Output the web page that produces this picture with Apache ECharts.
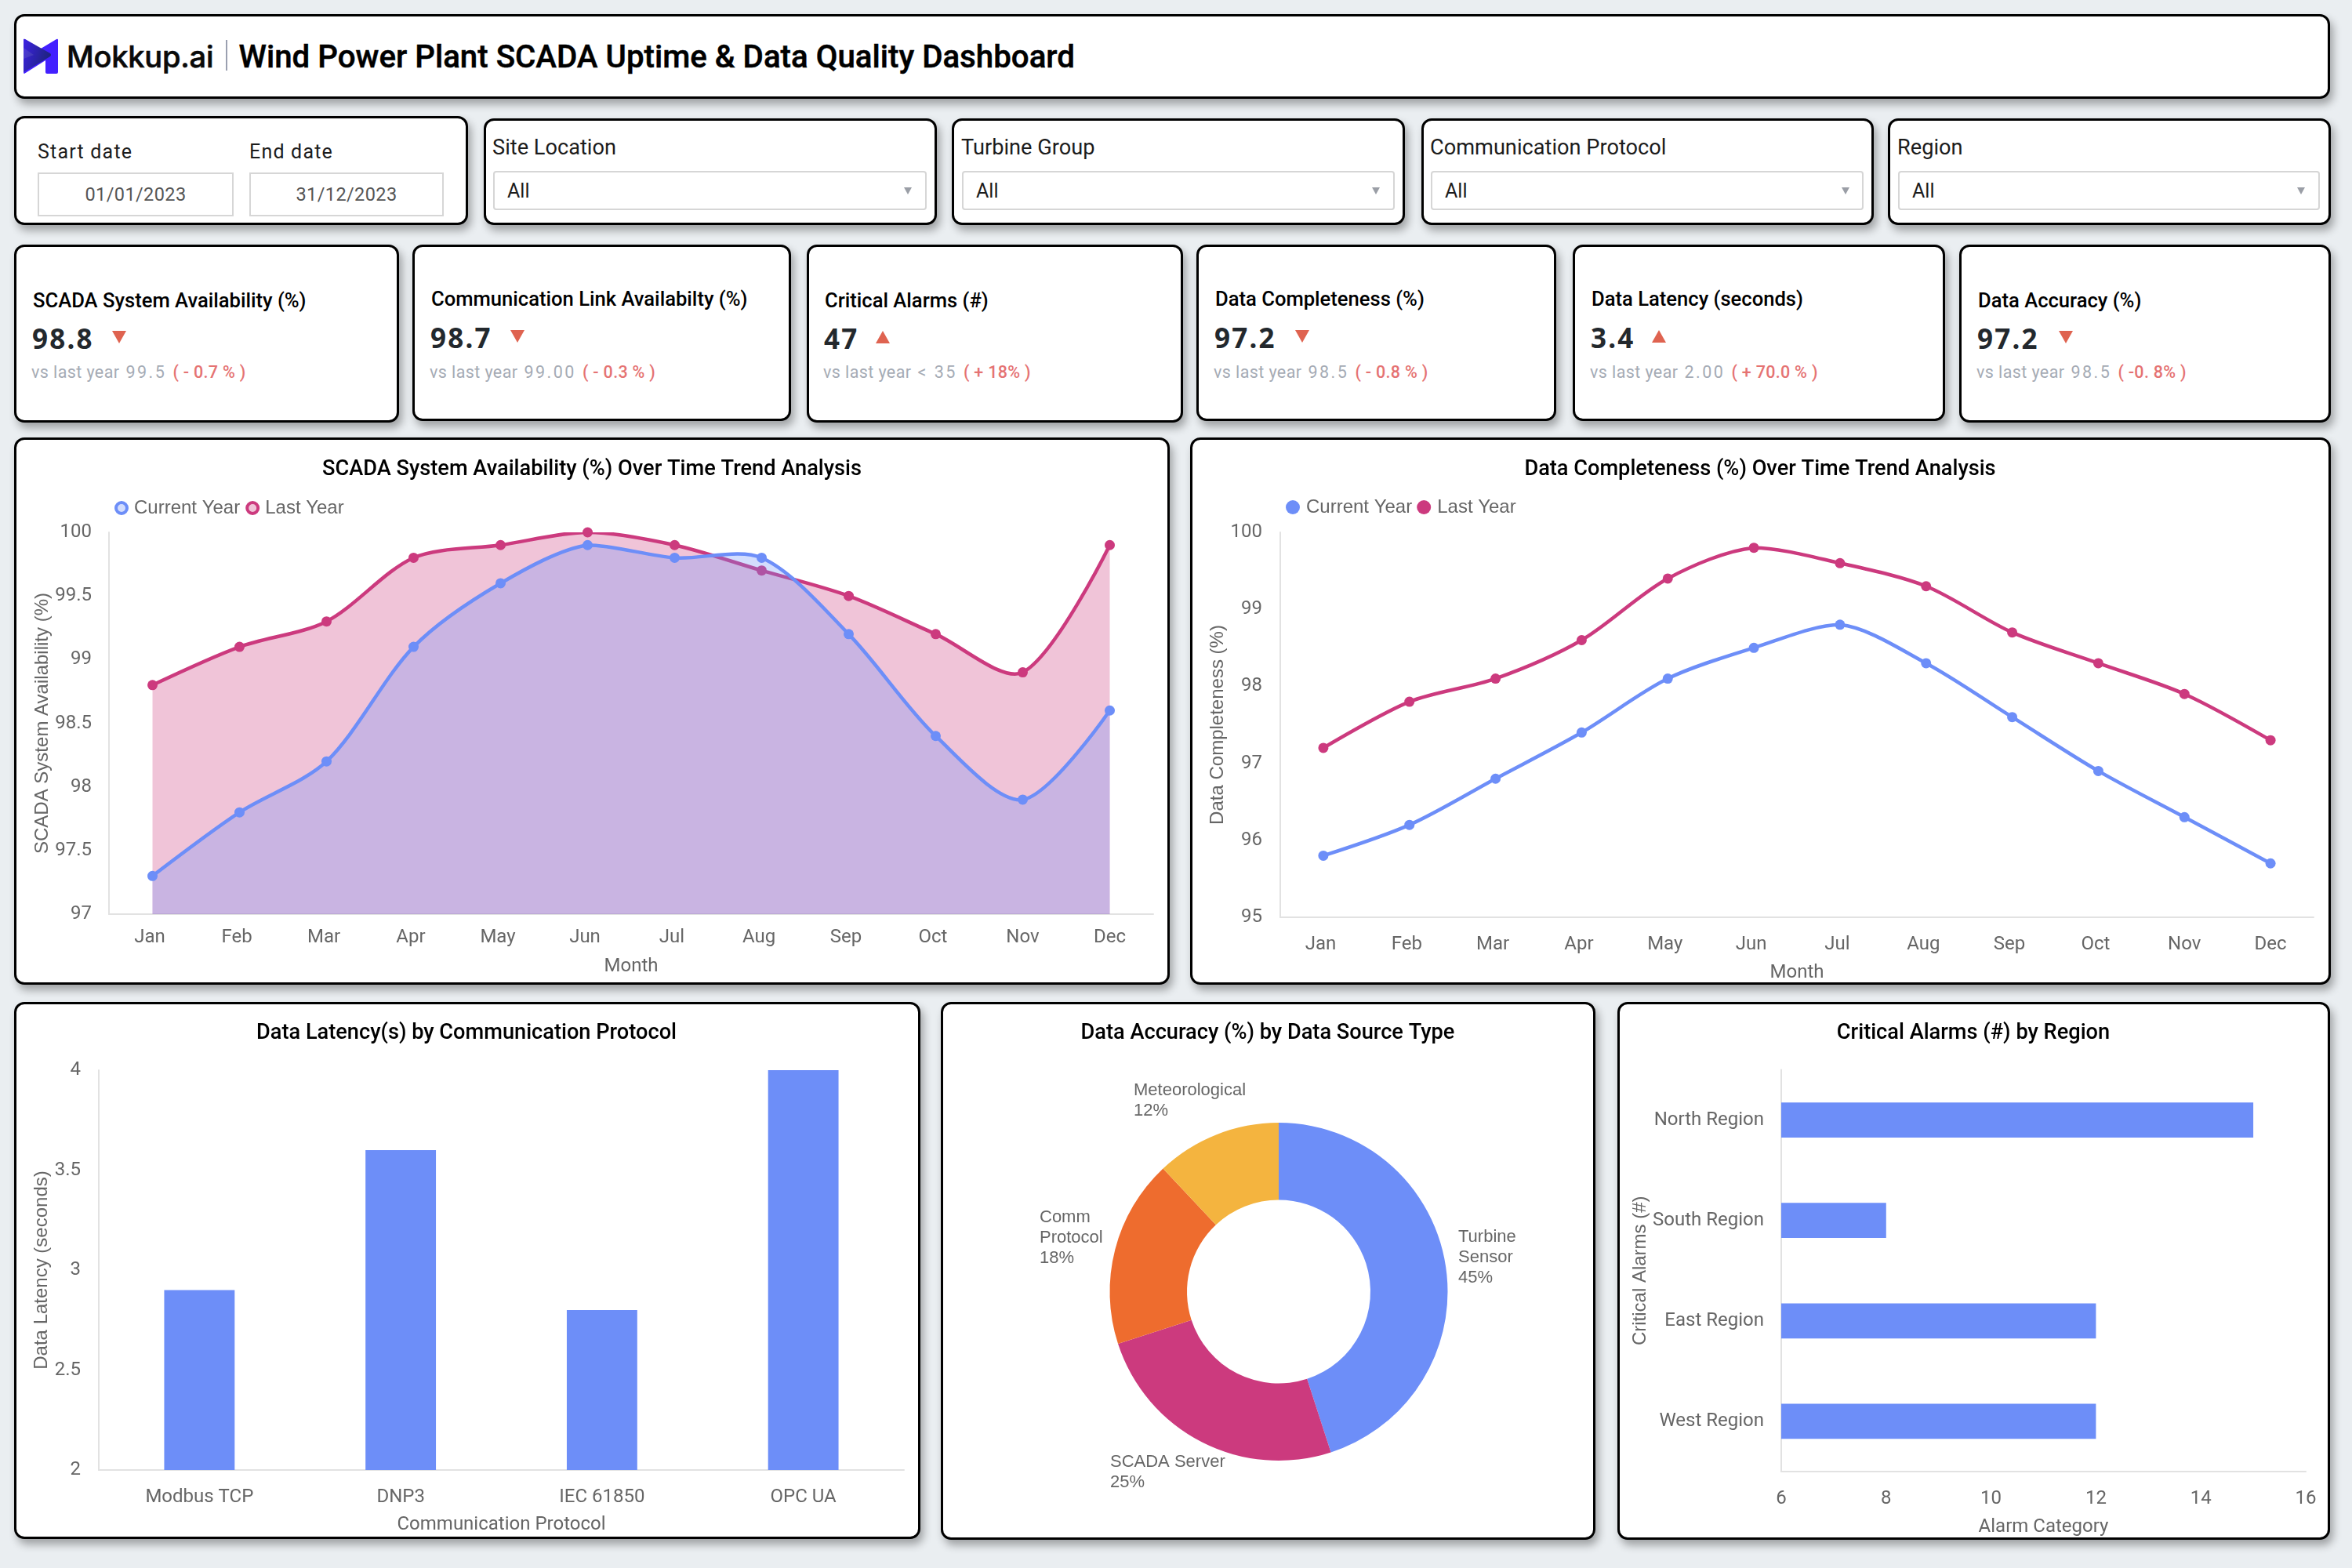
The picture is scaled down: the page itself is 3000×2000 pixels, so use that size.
<!DOCTYPE html>
<html><head><meta charset="utf-8">
<script src="https://cdn.jsdelivr.net/npm/echarts@6/dist/echarts.min.js"></script>
<style>
html,body{margin:0;padding:0;width:3000px;height:2000px;overflow:hidden;background:#eaeef1;font-family:Roboto,sans-serif}
.card{position:absolute;box-sizing:border-box;background:#fff;border:3px solid #000;border-radius:13px;box-shadow:4px 7px 11px rgba(0,0,0,.32)}
.t{position:absolute;transform:translateY(-50%);white-space:nowrap;line-height:1.2}
.input{position:absolute;box-sizing:border-box;border:2.5px solid #d6d6d6;background:#fff}
.tri{position:absolute;width:0;height:0}
#chart{position:absolute;left:0;top:0;width:3000px;height:2000px}
</style></head><body>
<div id="dash"></div>
<svg style="position:absolute;left:0;top:0" width="120" height="110">
<defs><linearGradient id="lg" x1="0" y1="0" x2="1" y2="0.4"><stop offset="0" stop-color="#3c22e0"/><stop offset="1" stop-color="#1a2470"/></linearGradient></defs>
<path d="M30 51 Q30 49 32 50 L52 62 L72 50 Q74 49 74 51 L74 92 Q74 94 72 94 L60 94 Q58 94 58 92 L58 77 L31 94 Q30 94 30 92 L30 75 L43 70 L30 61 Z" fill="#4320ff"/>
<path d="M30 51 Q30 49 32 50 L64 68 Q66 70 64 72 L44 84 L30 92 Z" fill="url(#lg)" opacity=".9"/>
</svg>
<div id="chart"></div>
<script>
// ---- data ----
const months = ['Jan','Feb','Mar','Apr','May','Jun','Jul','Aug','Sep','Oct','Nov','Dec'];
const scadaCurrent = [97.3,97.8,98.2,99.1,99.6,99.9,99.8,99.8,99.2,98.4,97.9,98.6];
const scadaLast = [98.8,99.1,99.3,99.8,99.9,100,99.9,99.7,99.5,99.2,98.9,99.9];
const completenessCurrent = [95.8,96.2,96.8,97.4,98.1,98.5,98.8,98.3,97.6,96.9,96.3,95.7];
const completenessLast = [97.2,97.8,98.1,98.6,99.4,99.8,99.6,99.3,98.7,98.3,97.9,97.3];
const protocols = ['Modbus TCP','DNP3','IEC 61850','OPC UA'];
const latencyValues = [2.9,3.6,2.8,4];
const sourceTypes = ['Turbine Sensor','SCADA Server','Comm Protocol','Meteorological'];
const accuracyShares = [45,25,18,12];
const regions = ['North Region','South Region','East Region','West Region'];
const alarmValues = [15,8,12,12];
const kpiTitles = ['SCADA System Availability (%)','Communication Link Availabilty (%)','Critical Alarms (#)','Data Completeness (%)','Data Latency (seconds)','Data Accuracy (%)'];
const kpiValues = ['98.8','98.7','47','97.2','3.4','97.2'];
const kpiDirections = ['down','down','up','down','up','down'];
const kpiBaseLabel = 'vs last year';
const kpiBaselines = ['99.5','99.00','< 35','98.5','2.00','98.5'];
const kpiDeltas = ['( - 0.7 % )','( - 0.3 % )','( + 18% )','( - 0.8 % )','( + 70.0 % )','( -0. 8% )'];
const filterNames = ['Site Location','Turbine Group','Communication Protocol','Region'];
const filterValue = 'All';
const startLabel='Start date', endLabel='End date', startDate='01/01/2023', endDate='31/12/2023';
const brand='Mokkup.ai', dashTitle='Wind Power Plant SCADA Uptime & Data Quality Dashboard';

// ---- page furniture ----
const dash=document.getElementById('dash');
function el(cls,css,txt){const d=document.createElement('div');d.className=cls;d.style.cssText=css;if(txt!=null)d.textContent=txt;dash.appendChild(d);return d;}
function box(x0,y0,x1,y1){return el('card',`left:${x0-1}px;top:${y0}px;width:${x1-x0+2.5}px;height:${y1-y0+.5}px`);}
function text(x,cy,txt,css){return el('t',`left:${x}px;top:${cy}px;${css}`,txt);}
function tri(cx,cy,w,h,color,dir){el('tri',`left:${cx-w/2}px;top:${cy-h/2}px;border-left:${w/2}px solid transparent;border-right:${w/2}px solid transparent;`+(dir==='up'?`border-bottom:${h}px solid ${color}`:`border-top:${h}px solid ${color}`));}

box(19,18,2970,125);
text(85,72,brand,'font:500 38px Inter,sans-serif;color:#0a0a0a;letter-spacing:-.2px;-webkit-text-stroke:.6px #0a0a0a');
el('','position:absolute;left:288px;top:51px;width:1.5px;height:39px;background:#9aa0b0');
text(304.5,72,dashTitle,'font:500 40.25px Roboto;color:#000;-webkit-text-stroke:.5px #000');

box(19,148,595,286);
const labelCss='font:400 25px Roboto;color:#1c1c1c;letter-spacing:1.2px';
text(48,193,startLabel,labelCss); text(318,193,endLabel,labelCss);
[[48,298,startDate],[318,566,endDate]].forEach(([a,b,t])=>{
  el('input',`left:${a}px;top:220px;width:${b-a}px;height:56px;font:400 23.5px/52px Roboto;color:#555;text-align:center;letter-spacing:.4px`,t);
});
const filterBoxes=[[618,1193,629,1182,1158],[1215,1790,1227,1779,1755],[1814,2388,1825,2377,2354],[2409,2971,2421,2959,2935]];
filterBoxes.forEach((f,i)=>{
  box(f[0],151,f[1],286);
  text(f[2]-1,188,filterNames[i],'font:400 27.2px Roboto;color:#1c1c1c');
  el('input',`left:${f[2]}px;top:218px;width:${f[3]-f[2]}px;height:50px;border-radius:4px`);
  text(f[2]+18,243,filterValue,'font:400 25px Roboto;color:#1c1c1c');
  tri(f[4],243,11,9,'#9a9ea6','down');
});
const kpiBoxes=[[19,507,312,538,42,383,431,152],[527,1007,312,536,550,381,430,660],[1030,1507,312,538,1052,383,431,1126],[1527,1983,312,536,1550,381,430,1661],[2007,2479,312,536,2030,381,430,2116],[2500,2971,312,538,2523,383,431,2635]];
kpiBoxes.forEach((k,i)=>{
  box(k[0],k[2],k[1],k[3]);
  text(k[4],k[5],kpiTitles[i],'font:500 25.6px Roboto;color:#000');
  text(k[4]-1,k[6],kpiValues[i],'font:700 35px "Noto Sans";color:#23282d;letter-spacing:2.2px');
  tri(k[7],k[6]-1,18,16,'#df6350',kpiDirections[i]);
  const s=text(k[4]-2,473.5,kpiBaseLabel,'font:400 21.5px Roboto;color:#a5abb5;letter-spacing:.4px');
  const n=document.createElement('span');n.textContent=kpiBaselines[i];n.style.cssText='margin-left:8px;letter-spacing:2.5px';s.appendChild(n);
  const sp=document.createElement('span');sp.textContent=kpiDeltas[i];sp.style.cssText='color:#e57373;font-weight:500;margin-left:8px;letter-spacing:.3px';s.appendChild(sp);
});
// chart panels
box(19,558,1490,1255.5); box(1519,558,2971,1255.5); box(19,1278,1172,1962.5); box(1201,1278,2033,1963.5); box(2064,1278,2970,1963.5);

// ---- chart ----
const BLUE='#6d8ef8', PINK='#cc3a7e', ORANGE='#ee6c2e', YELLOW='#f4b43f';
const txt='#666', lineCol='#e2e2e2';
const AX_FONT='Roboto';
const axisBase={axisTick:{show:false},splitLine:{show:false},axisLine:{show:true,lineStyle:{color:lineCol,width:2}},
  axisLabel:{color:txt,fontFamily:AX_FONT,fontSize:24},
  nameLocation:'middle',nameTextStyle:{color:txt,fontFamily:AX_FONT,fontSize:24}};
const yNameFont={color:txt,fontFamily:'"Liberation Sans"',fontSize:24};
function catAxis(grid,data,name,margin,gap){return Object.assign({},axisBase,{type:'category',gridIndex:grid,data,name,nameGap:gap,axisLabel:Object.assign({},axisBase.axisLabel,{margin,interval:0})});}
function valAxis(grid,name,min,max,interval,margin,gap,font){return Object.assign({},axisBase,{type:'value',gridIndex:grid,name,min,max,interval,nameGap:gap,nameTextStyle:font||yNameFont,axisLabel:Object.assign({},axisBase.axisLabel,{margin})});}
// month ticks sit slightly left of their points, except the last two
const monthTicks=months.map((m,i)=>i<10?{value:m,textStyle:{padding:[0,7,0,0]}}:m);

// curve whose tangent at each point follows its neighbours, bounded by the series' own extent
const CURVE_SMOOTH=.3;
function curveShape(api,values){
  const pts=values.map((v,i)=>api.coord([i,v]));
  const ys=pts.map(p=>p[1]); const minY=Math.min(...ys), maxY=Math.max(...ys);
  const s=CURVE_SMOOTH;
  let cp0=pts[0].slice();
  const clampY=y=>Math.min(maxY,Math.max(minY,y));
  const segs=[];
  for(let i=1;i<pts.length;i++){
    const p=pts[i],prev=pts[i-1],next=pts[i+1];
    let cp1,nextCp0;
    if(next){
      const vx=next[0]-prev[0],vy=next[1]-prev[1];
      const a=Math.hypot(p[0]-prev[0],p[1]-prev[1]),b=Math.hypot(next[0]-p[0],next[1]-p[1]);
      const r=b/(a+b);
      cp1=[p[0]-vx*s*(1-r),clampY(p[1]-vy*s*(1-r))];
      nextCp0=[p[0]+vx*s*r,clampY(p[1]+vy*s*r)];
    } else {cp1=p.slice();nextCp0=p.slice();}
    segs.push([cp0,cp1,p]);
    cp0=nextCp0;
  }
  let d=`M${pts[0][0]} ${pts[0][1]}`;
  segs.forEach(g=>{d+=`C${g[0][0]} ${g[0][1]} ${g[1][0]} ${g[1][1]} ${g[2][0]} ${g[2][1]}`;});
  return {d,pts};
}
function curveSeries(name,axis,values,color,area,z){
  return {type:'custom',name,xAxisIndex:axis,yAxisIndex:axis,z,silent:true,clip:true,
    data:values.map((v,i)=>[i,v]),encode:{x:0,y:1},
    renderItem:(params,api)=>{
      if(params.dataIndex!==0) return null;
      const {d,pts}=curveShape(api,values);
      const bottom=params.coordSys.y+params.coordSys.height;
      const kids=[];
      if(area) kids.push({type:'path',shape:{pathData:d+`L${pts[pts.length-1][0]} ${bottom}L${pts[0][0]} ${bottom}Z`},style:{fill:color,opacity:.3,stroke:null}});
      kids.push({type:'path',shape:{pathData:d},style:{fill:null,stroke:color,lineWidth:4.5}});
      return {type:'group',children:kids};
    }};
}
function markerSeries(name,axis,data,color,z){
  return {type:'line',name,xAxisIndex:axis,yAxisIndex:axis,smooth:true,z,data,
    symbol:'circle',symbolSize:13,showSymbol:true,lineStyle:{opacity:0,width:0},
    itemStyle:{color,borderWidth:0},emphasis:{disabled:true}};
}
function legendAt(left,light,size,top,pad,gap){
  const mk=(name,c)=>({name,icon:'circle',itemStyle:{color:light?c+'4d':c,borderColor:c,borderWidth:light?4:0}});
  return {left,top,padding:0,itemWidth:size,itemHeight:size,itemGap:gap,selectedMode:false,
    textStyle:{color:txt,fontFamily:'"Liberation Sans"',fontSize:24,padding:[0,0,0,pad]},
    data:[mk('Current Year',BLUE),mk('Last Year',PINK)]};
}
function titleAt(text,x,y){return {text,left:x-5,top:y-3,textAlign:'center',textVerticalAlign:'middle',textStyle:{color:'#000',fontFamily:'Roboto',fontWeight:500,fontSize:27.2}};}
const labelSpots=[[229,-83],[-215,204],[-305,-108],[-185,-270]];
const wrapNames=['Turbine Sensor','Comm Protocol'];
const option={
  animation:false,
  title:[titleAt('SCADA System Availability (%) Over Time Trend Analysis',755,597),
         titleAt('Data Completeness (%) Over Time Trend Analysis',2245,597),
         titleAt('Data Latency(s) by Communication Protocol',595,1316),
         titleAt('Data Accuracy (%) by Data Source Type',1617,1316),
         titleAt('Critical Alarms (#) by Region',2517,1316)],
  legend:[legendAt(146,true,14,636,4,7),legendAt(1640,false,18,635,3,6)],
  grid:[{left:139,width:1332,top:679,height:487},
        {left:1633,width:1318,top:679,height:491},
        {left:126,width:1027,top:1365,height:510},
        {left:2272,width:669,top:1364.5,height:512.5}],
  xAxis:[catAxis(0,monthTicks,'Month',18,55),
         catAxis(1,monthTicks,'Month',23,59),
         catAxis(2,protocols,'Communication Protocol',23,58),
         Object.assign({},axisBase,{type:'value',gridIndex:3,name:'Alarm Category',min:6,max:16,interval:2,nameGap:59,axisLabel:Object.assign({},axisBase.axisLabel,{margin:23})})],
  yAxis:[valAxis(0,'SCADA System Availability (%)',97,100,0.5,22,70),
         valAxis(1,'Data Completeness (%)',95,100,1,23,66),
         valAxis(2,'Data Latency (seconds)',2,4,0.5,23,59),
         Object.assign(catAxis(3,regions,'Critical Alarms (#)',22,151),{inverse:true,nameTextStyle:yNameFont})],
  series:[
    curveSeries('Last Year',0,scadaLast,PINK,true,2),
    markerSeries('Last Year',0,scadaLast,PINK,3),
    curveSeries('Current Year',0,scadaCurrent,BLUE,true,4),
    markerSeries('Current Year',0,scadaCurrent,BLUE,5),
    curveSeries('Last Year',1,completenessLast,PINK,false,2),
    markerSeries('Last Year',1,completenessLast,PINK,3),
    curveSeries('Current Year',1,completenessCurrent,BLUE,false,4),
    markerSeries('Current Year',1,completenessCurrent,BLUE,5),
    {type:'bar',xAxisIndex:2,yAxisIndex:2,data:latencyValues,barWidth:'35%',itemStyle:{color:BLUE},emphasis:{disabled:true}},
    {type:'bar',xAxisIndex:3,yAxisIndex:3,data:alarmValues,barWidth:'35%',itemStyle:{color:BLUE},emphasis:{disabled:true}},
    {type:'pie',center:[1631,1647.5],radius:[117,215.5],startAngle:90,clockwise:true,avoidLabelOverlap:false,
     emphasis:{disabled:true},
     data:sourceTypes.map((n,i)=>({name:n,value:accuracyShares[i],itemStyle:{color:[BLUE,PINK,ORANGE,YELLOW][i]}})),
     label:{show:true,position:'outside',color:txt,fontFamily:'"Liberation Sans"',fontSize:22,lineHeight:26,align:'left',
       formatter:p=>(wrapNames.includes(p.name)?p.name.replace(' ','\n'):p.name)+'\n'+p.value+'%'},
     labelLine:{show:false},
     labelLayout:p=>({x:1631+labelSpots[p.dataIndex][0],y:1647.5+labelSpots[p.dataIndex][1],align:'left',verticalAlign:'top'})}
  ]
};
echarts.init(document.getElementById('chart'),null,{width:3000,height:2000}).setOption(option);
</script>
</body></html>
